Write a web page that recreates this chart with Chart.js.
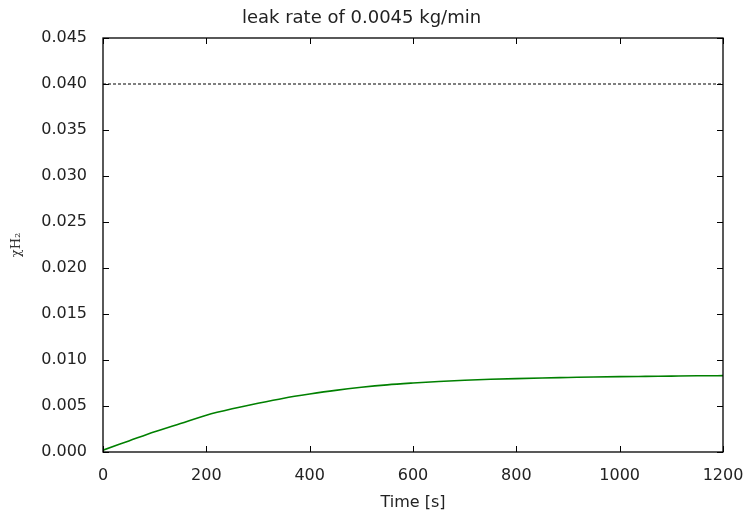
<!DOCTYPE html>
<html>
<head>
<meta charset="utf-8">
<script src="https://cdn.jsdelivr.net/npm/chart.js@4/dist/chart.umd.min.js"></script>
<style>
  html, body { margin: 0; padding: 0; background: #fff; }
  #wrap { width: 747px; height: 512px; }
</style>
</head>
<body>
<div id="wrap"><canvas id="myChart" width="747" height="512"></canvas></div>
<script>
const times = [0, 50, 100, 150, 200, 250, 300, 350, 400, 450, 500, 550, 600,
  650, 700, 750, 800, 850, 900, 950, 1000, 1050, 1100, 1150, 1200];
const xH2 = [0.0002, 0.0012, 0.0022, 0.0031, 0.0040, 0.0047, 0.0053, 0.00585, 0.0063,
  0.0067, 0.00703, 0.0073, 0.0075, 0.00767, 0.0078, 0.0079, 0.00798, 0.00805, 0.0081,
  0.00815, 0.00819, 0.00822, 0.00825, 0.00828, 0.0083];
const limitTimes = [0, 1200];
const limitValue = [0.040, 0.040];
const xTicks = [0, 200, 400, 600, 800, 1000, 1200];
const yTicks = [0, 0.005, 0.010, 0.015, 0.020, 0.025, 0.030, 0.035, 0.040, 0.045];

const font = "'DejaVu Sans', sans-serif";

// matplotlib style box with inward ticks
const frame = {
  id: 'frame',
  afterDraw(chart) {
    const {ctx, chartArea: a, scales} = chart;
    ctx.save();
    ctx.strokeStyle = '#000';
    ctx.lineWidth = 1;
    ctx.beginPath();
    for (const v of xTicks) {
      const px = Math.round(scales.x.getPixelForValue(v)) + 0.5;
      ctx.moveTo(px, a.bottom); ctx.lineTo(px, a.bottom - 6);
      ctx.moveTo(px, a.top); ctx.lineTo(px, a.top + 6);
    }
    for (const v of yTicks) {
      const py = Math.round(scales.y.getPixelForValue(v)) + 0.5;
      ctx.moveTo(a.left, py); ctx.lineTo(a.left + 6, py);
      ctx.moveTo(a.right, py); ctx.lineTo(a.right - 6, py);
    }
    ctx.stroke();
    ctx.lineWidth = 1.3;
    ctx.strokeRect(a.left, a.top, a.right - a.left, a.bottom - a.top);
    ctx.restore();
  }
};

const data = {
  datasets: [{
    label: 'xH2',
    data: times.map((t, i) => ({x: t, y: xH2[i]})),
    borderColor: '#008000',
    borderWidth: 1.6,
    pointRadius: 0,
    cubicInterpolationMode: 'monotone',
    fill: false
  }, {
    label: 'limit',
    data: limitTimes.map((t, i) => ({x: t, y: limitValue[i]})),
    borderColor: '#000',
    borderWidth: 1,
    borderDash: [3, 2],
    pointRadius: 0,
    fill: false
  }]
};

const config = {
  type: 'line',
  data,
  options: {
    responsive: false,
    animation: false,
    layout: { padding: { left: 0, right: 24, top: 0, bottom: 0 } },
    scales: {
      x: {
        type: 'linear',
        min: 0, max: 1200,
        grid: { display: false },
        border: { display: false },
        afterBuildTicks: s => { s.ticks = xTicks.map(v => ({value: v})); },
        ticks: {
          padding: 6,
          color: '#222',
          font: { family: font, size: 16 },
          maxRotation: 0,
          callback: v => String(v)
        },
        title: {
          display: true,
          text: 'Time [s]',
          color: '#222',
          font: { family: font, size: 16 },
          padding: { top: 4, bottom: 0 }
        },
        afterFit: s => { s.height = 60; s.paddingLeft = 0; s.paddingRight = 0; }
      },
      y: {
        min: 0, max: 0.045,
        grid: { display: false },
        border: { display: false },
        afterBuildTicks: s => { s.ticks = yTicks.map(v => ({value: v})); },
        ticks: {
          padding: 8,
          color: '#222',
          font: { family: font, size: 16 },
          callback: v => v.toFixed(3)
        },
        title: {
          display: true,
          text: 'χH₂',
          color: '#333',
          font: { family: "'DejaVu Serif', serif", size: 13 },
          padding: { top: 9, bottom: 0 }
        },
        afterFit: s => { s.width = 103; }
      }
    },
    plugins: {
      legend: { display: false },
      tooltip: { enabled: false },
      title: {
        display: true,
        text: 'leak rate of 0.0045 kg/min',
        color: '#222',
        font: { family: font, size: 18, weight: 'normal' },
        padding: { top: 8, bottom: 8.4 }
      }
    }
  },
  plugins: [frame]
};

const myChart = new Chart(document.getElementById('myChart'), config);
</script>
</body>
</html>
